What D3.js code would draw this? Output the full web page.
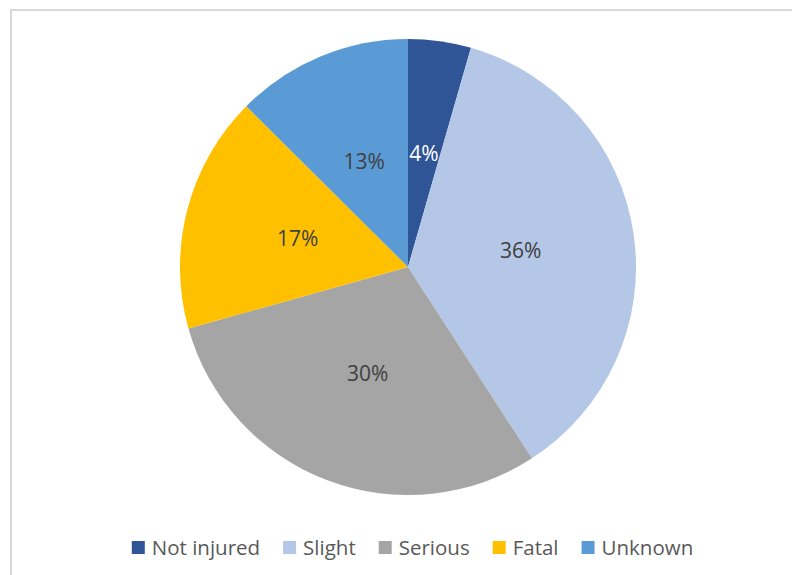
<!DOCTYPE html>
<html>
<head>
<meta charset="utf-8">
<script src="https://cdn.jsdelivr.net/npm/d3@7"></script>
<style>
  body { margin: 0; background: #fff; }
  svg { display: block; }
</style>
</head>
<body>
<div id="chart"></div>
<script>
// data
const categories = ["Not injured", "Slight", "Serious", "Fatal", "Unknown"];
const values = [4.45, 36.4, 29.8, 16.8, 12.55];
const colors = ["#2F5597", "#B4C7E7", "#A5A5A5", "#FFC000", "#5B9BD5"];
const labelColors = ["#ffffff", "#404040", "#404040", "#404040", "#404040"];

const width = 792, height = 575;
const cx = 408, cy = 267, radius = 228;
const font = "'Open Sans', sans-serif";

const svg = d3.select("#chart").append("svg")
    .attr("width", width)
    .attr("height", height);

// chart area frame (runs off the right and bottom edges)
svg.append("rect")
    .attr("x", 11).attr("y", 10)
    .attr("width", 900).attr("height", 700)
    .attr("fill", "#fff")
    .attr("stroke", "#d9d9d9")
    .attr("stroke-width", 2);

const total = d3.sum(values);
const data = categories.map((c, i) => ({ name: c, value: values[i], i: i }));

const pie = d3.pie().sort(null).value(d => d.value);
const arc = d3.arc().innerRadius(0).outerRadius(radius);

const g = svg.append("g").attr("transform", "translate(" + cx + "," + cy + ")");
const arcs = pie(data);

g.selectAll("path")
  .data(arcs)
  .enter().append("path")
    .attr("d", arc)
    .attr("fill", d => colors[d.data.i]);

g.selectAll("text")
  .data(arcs)
  .enter().append("text")
    .attr("transform", d => "translate(" + arc.centroid(d) + ")")
    .attr("text-anchor", "middle")
    .attr("dy", "0.35em")
    .attr("font-family", font)
    .attr("font-size", 21)
    .attr("fill", d => labelColors[d.data.i])
    .text(d => Math.round(d.data.value / total * 100) + "%");

// legend, laid out from measured text widths then centred
const legend = svg.append("g");
const items = legend.selectAll("g")
  .data(categories)
  .enter().append("g");

items.append("rect")
    .attr("y", 541)
    .attr("width", 13).attr("height", 13)
    .attr("fill", (d, i) => colors[i]);

items.append("text")
    .attr("x", 20)
    .attr("y", 555)
    .attr("font-family", font)
    .attr("font-size", 20.5)
    .attr("fill", "#595959")
    .text(d => d);

const gap = 23;
let x = 0;
items.each(function() {
  const w = d3.select(this).select("text").node().getComputedTextLength();
  d3.select(this).attr("transform", "translate(" + x + ",0)");
  x += 20 + w + gap;
});
const legendWidth = x - gap;
legend.attr("transform", "translate(" + (412.5 - legendWidth / 2) + ",0)");
</script>
</body>
</html>
